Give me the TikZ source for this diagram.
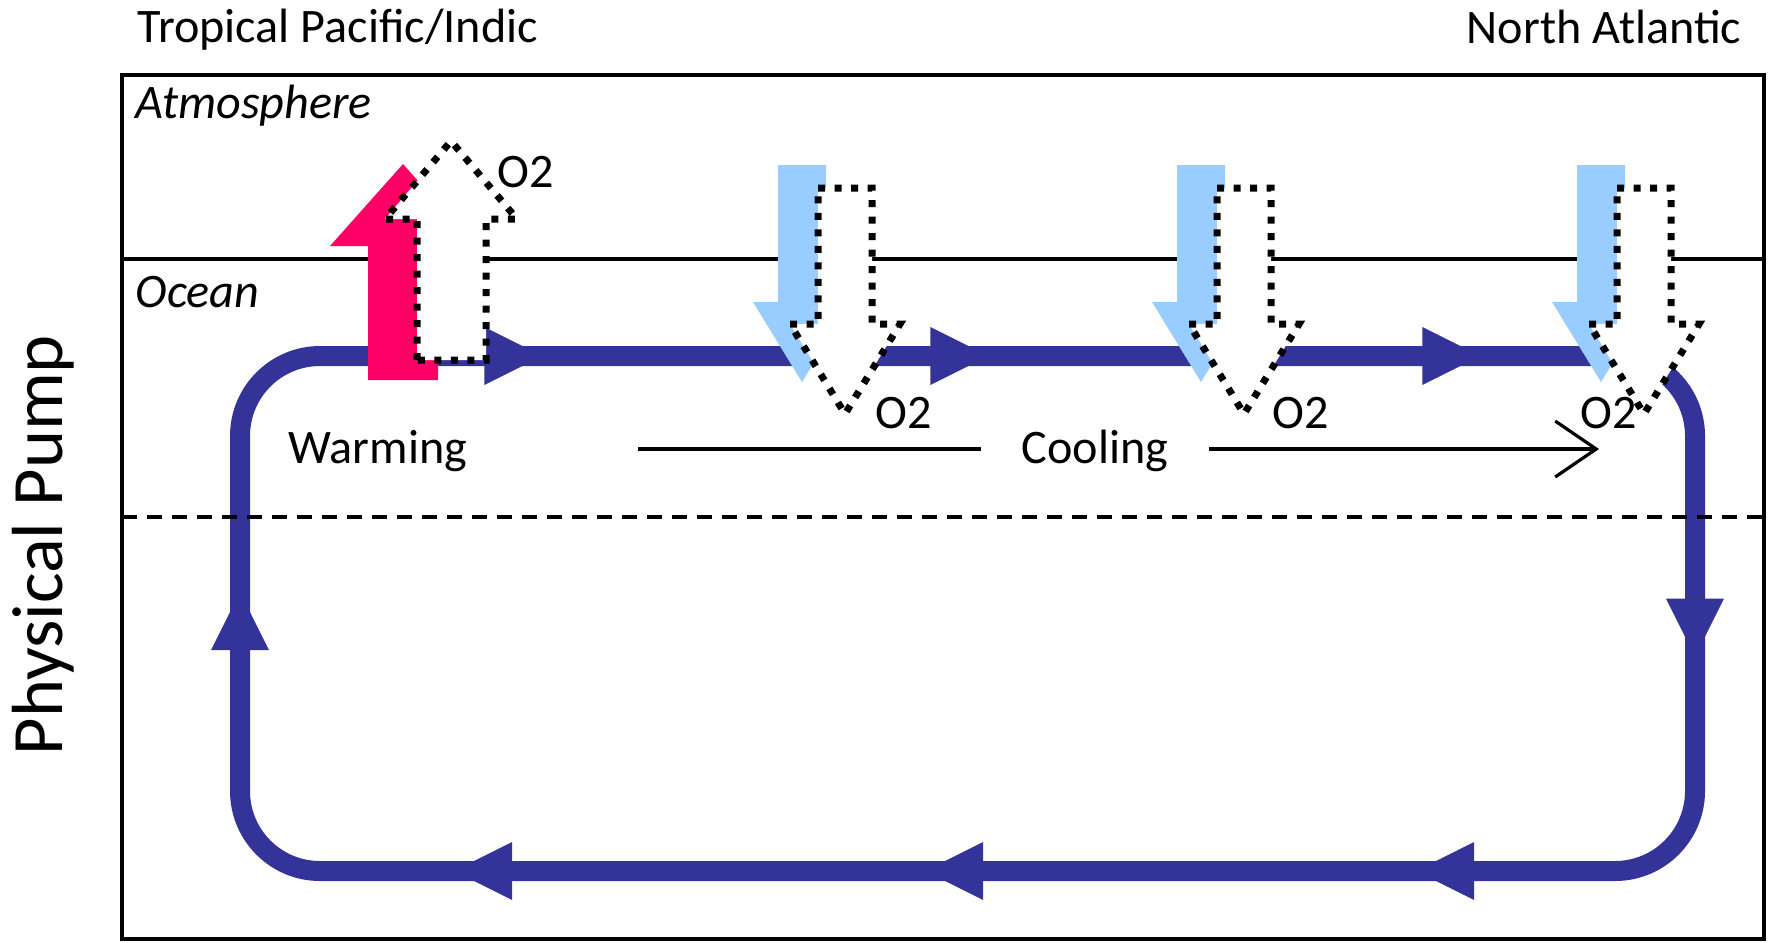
\documentclass[tikz,border=0pt]{standalone}
\usepackage{fontspec}
\setmainfont{Carlito}
\usetikzlibrary{arrows.meta,decorations.markings}
\definecolor{pumpblue}{HTML}{333399}
\definecolor{warmred}{HTML}{FF0066}
\definecolor{coldblue}{HTML}{99CCFF}
\tikzset{
  boxframe/.style={draw=black, line width=0.4mm},
  sealine/.style={draw=black, line width=0.32mm},
  mixline/.style={draw=black, line width=0.35mm, dash pattern=on 1.5mm off 1mm},
  pumploop/.style={draw=pumpblue, line width=2mm, rounded corners=8mm},
  flowtip/.tip={Triangle[length=5.8mm, width=5.8mm, line width=0pt]},
  o2flux/.style={fill=white, draw=black, line width=0.7mm, dash pattern=on 0.7mm off 0.95mm},
  lbl/.style={inner sep=0pt, font=\fontsize{13.7}{16}\selectfont},
  ilbl/.style={lbl, font=\fontsize{13.7}{16}\selectfont\itshape},
  thinline/.style={line width=0.32mm},
  trend/.style={thinline, -{Straight Barb[length=4.1mm, width=5.6mm]}},
}

\begin{document}
\begin{tikzpicture}[x=0.1mm, y=-0.1mm]
\useasboundingbox (0,0) rectangle (1769,942);
% box, sea surface
\draw[boxframe] (122,75) rectangle (1764,939);
\draw[sealine] (122,259) -- (1764,259);
% overturning loop
\coordinate (start) at (240,700);
\coordinate (nw) at (240,356);
\coordinate (ne) at (1695,356);
\coordinate (se) at (1695,871);
\coordinate (sw) at (240,871);
\draw[pumploop, postaction={decorate}, decoration={markings,
    mark=at position 2.8mm with {\arrow{flowtip}},
    mark=at position 53.2mm with {\arrow{flowtip}},
    mark=at position 97.8mm with {\arrow{flowtip}},
    mark=at position 147mm with {\arrow{flowtip}},
    mark=at position 195.1mm with {\arrow{flowtip}},
    mark=at position 241mm with {\arrow{flowtip}},
    mark=at position 290.1mm with {\arrow{flowtip}},
    mark=at position 337.2mm with {\arrow{flowtip}}}]
  (start) -- (nw) -- (ne) -- (se) -- (sw) -- cycle;
\draw[mixline] (122,517) -- (1764,517);
% heat and O2 fluxes
\fill[warmred] (368,380) -- (368,246) -- (330,246) -- (403,164) -- (476,246) -- (438,246) -- (438,380) -- cycle;
\filldraw[o2flux] (417,360) -- (417,219) -- (385,219) -- (451,141) -- (517,219) -- (486,219) -- (486,360) -- cycle;
\node[lbl, anchor=base west] (o2up) at (497,187) {O2};
\foreach \c/\lx [count=\i] in {802/875, 1201/1272, 1601/1580} {
  \fill[coldblue, shift={(\c,0)}] (-24,165) -- (24,165) -- (24,302) -- (49,302) -- (0,382) -- (-49,302) -- (-24,302) -- cycle;
  \filldraw[o2flux, shift={(\c+43,0)}] (-27,188) -- (27,188) -- (27,324) -- (55,324) -- (0,414) -- (-55,324) -- (-27,324) -- cycle;
  \node[lbl, anchor=base west] (o2down\i) at (\lx,428) {O2};
}
% labels
\node[lbl, anchor=base west] (tropics) at (137,42) {Tropical Pacific/Indic};
\node[lbl, anchor=base east] (natl) at (1742,43) {North Atlantic};
\node[ilbl, anchor=base west] (atm) at (135,118) {Atmosphere};
\node[ilbl, anchor=base west] (ocean) at (135,307) {Ocean};
\node[lbl, anchor=base west] (warm) at (288,463) {Warming};
\node[lbl, anchor=base, inner xsep=4mm] (cool) at (1095,463) {Cooling};
\coordinate (cstart) at (638,449);
\coordinate (cend) at (1599,449);
\draw[thinline] (cstart) -- (cool.west |- cstart);
\draw[trend] (cool.east |- cstart) -- (cend);
\node[rotate=90, anchor=base, inner sep=0pt, font=\fontsize{20.6}{24}\selectfont] (pump) at (62,545) {Physical Pump};
\end{tikzpicture}
\end{document}
